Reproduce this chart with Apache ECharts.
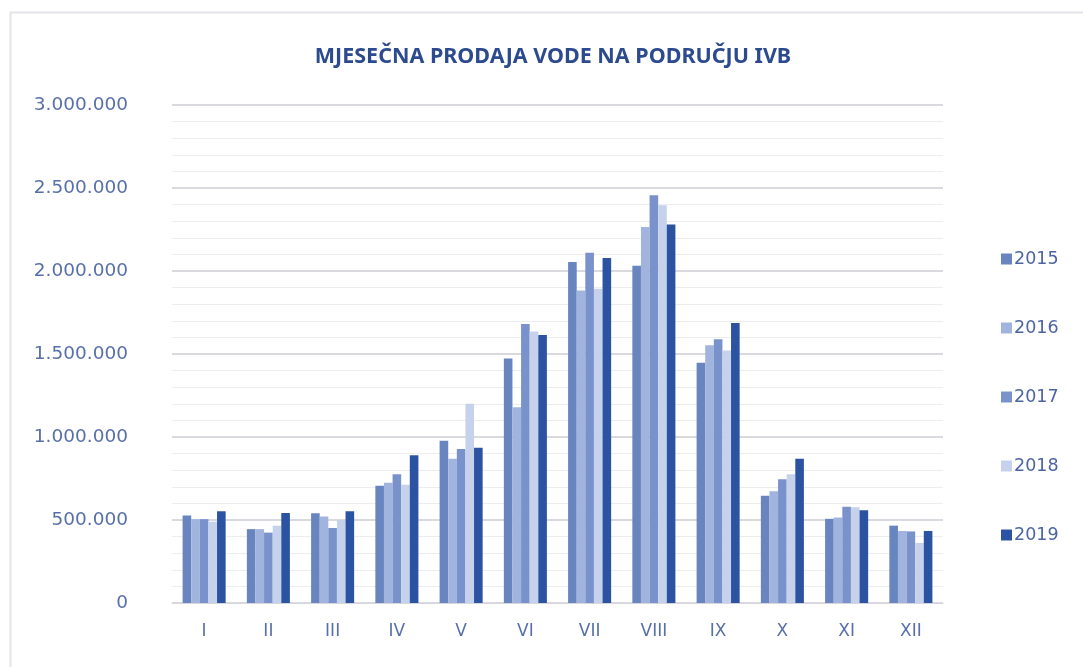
<!DOCTYPE html>
<html>
<head>
<meta charset="utf-8">
<script src="https://cdn.jsdelivr.net/npm/echarts@6/dist/echarts.min.js"></script>
<style>
html,body{margin:0;padding:0;background:#fff;}
#chart{width:1083px;height:667px;}
</style>
</head>
<body>
<div id="chart"></div>
<script>
const months = ['I', 'II', 'III', 'IV', 'V', 'VI', 'VII', 'VIII', 'IX', 'X', 'XI', 'XII'];
const years = ['2015', '2016', '2017', '2018', '2019'];
const y2015 = [527000, 445000, 540000, 707000, 977000, 1473000, 2054000, 2032000, 1448000, 646000, 507000, 466000];
const y2016 = [505000, 445000, 521000, 725000, 869000, 1179000, 1883000, 2265000, 1552000, 673000, 515000, 434000];
const y2017 = [505000, 424000, 452000, 776000, 927000, 1680000, 2110000, 2456000, 1589000, 745000, 580000, 431000];
const y2018 = [490000, 466000, 500000, 713000, 1200000, 1635000, 1893000, 2396000, 1521000, 776000, 577000, 362000];
const y2019 = [552000, 542000, 552000, 890000, 935000, 1614000, 2079000, 2280000, 1686000, 869000, 559000, 434000];
const seriesData = [y2015, y2016, y2017, y2018, y2019];
const colors = ['#6885bf', '#a1b4de', '#7a92cb', '#c6d2ec', '#2c53a2'];

function fmt(v) {
  return String(v).replace(/\B(?=(\d{3})+(?!\d))/g, '.');
}

const chart = echarts.init(document.getElementById('chart'), null, {renderer: 'canvas'});
chart.setOption({
  backgroundColor: '#ffffff',
  animation: false,
  graphic: [{
    type: 'rect', left: 8, top: 10, z: -1,
    shape: {width: 1090, height: 670},
    style: {fill: 'none', stroke: '#e4e4ea', lineWidth: 2}
  }],
  title: {
    text: 'MJESEČNA PRODAJA VODE NA PODRUČJU IVB',
    left: 548, top: 41, textAlign: 'center',
    textStyle: {
      fontFamily: '"Liberation Sans Narrow", "Noto Sans", sans-serif',
      fontSize: 21.5, fontWeight: 'bold', color: '#2c4a8e'
    }
  },
  legend: {
    orient: 'vertical',
    left: 996, top: 245,
    itemWidth: 11, itemHeight: 11, itemGap: 51,
    icon: 'rect',
    data: years,
    textStyle: {fontFamily: '"DejaVu Sans", sans-serif', fontSize: 17.5, color: '#4b64a2', padding: [0, 0, 0, -3]}
  },
  grid: {left: 172, right: 140, top: 105, bottom: 64},
  xAxis: {
    type: 'category',
    data: months,
    axisLine: {lineStyle: {color: '#d6d6dc', width: 1}},
    axisTick: {show: false},
    axisLabel: {fontFamily: '"DejaVu Sans", sans-serif', fontSize: 17, color: '#5870a9', margin: 20}
  },
  yAxis: {
    type: 'value',
    min: 0, max: 3000000, interval: 500000,
    axisLine: {show: false},
    axisTick: {show: false},
    axisLabel: {fontFamily: '"DejaVu Sans", sans-serif', fontSize: 18.5, color: '#5870a9', margin: 44, formatter: fmt},
    splitLine: {lineStyle: {color: '#d9d9df', width: 2}},
    minorTick: {show: false, splitNumber: 5},
    minorSplitLine: {show: true, lineStyle: {color: '#ededf1', width: 1}}
  },
  series: years.map((y, i) => ({
    name: y,
    type: 'bar',
    data: seriesData[i],
    barGap: '0%',
    barCategoryGap: '33%',
    itemStyle: {color: colors[i]}
  }))
});
</script>
</body>
</html>
